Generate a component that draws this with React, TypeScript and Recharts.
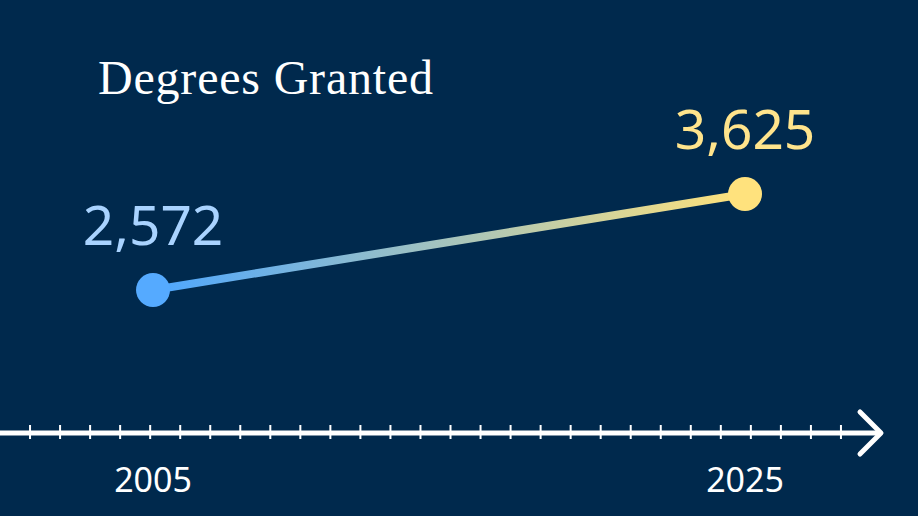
import React from 'react'
import { LineChart, Line, XAxis, YAxis } from 'recharts'

const years = [2005, 2025]
const degrees = [2572, 3625]
const pointColors = ['#55aaff', '#ffe27d']
const labelColors = ['#a9d3ff', '#ffe48c']
const yearTicks = [2005, 2025]
const minorTicks = [1, 2, 3, 4, 5, 6, 7, 8, 9, 10, 11, 12, 13, 14, 15, 16, 17, 18, 19, 20, 21, 22, 23, 24, 25, 26, 27, 28]

const data = years.map((year, i) => ({ year, value: degrees[i], idx: i }))

const BG = '#00294d'
const sans = '"Noto Sans", "Open Sans", sans-serif'

function Dot({ cx, cy, index }: any) {
  if (cx == null || cy == null) return null
  return <circle cx={cx} cy={cy} r={17} fill={pointColors[index]} />
}

function ValueLabel({ x, y, index, value }: any) {
  return (
    <text
      x={x}
      y={y - 45}
      textAnchor="middle"
      fill={labelColors[index]}
      fontFamily={sans}
      fontSize={55}
    >
      {Number(value).toLocaleString('en-US')}
    </text>
  )
}

// tick y arrives offset by tickSize + tickMargin below the axis line
function MinorTick({ x, y }: any) {
  return <line x1={x} x2={x} y1={y - 16} y2={y - 2} stroke="#ffffff" strokeWidth={2} />
}

function YearTick({ x, y, payload }: any) {
  return (
    <text x={x} y={y + 50} textAnchor="middle" fill="#ffffff" fontFamily={sans} fontSize={34}>
      {payload.value}
    </text>
  )
}

// chevron at the end of the axis line
function Arrow({ viewBox }: any) {
  if (!viewBox) return null
  const { x, y, width } = viewBox
  const tip = x + width + 1
  return (
    <polyline
      points={`${tip - 21},${y - 21} ${tip},${y} ${tip - 21},${y + 21}`}
      fill="none"
      stroke="#ffffff"
      strokeWidth={5}
      strokeLinecap="round"
      strokeLinejoin="round"
    />
  )
}

export default function App() {
  return (
    <div style={{ position: 'absolute', left: 0, top: 0, width: 918, height: 516, background: BG }}>
      <div
        style={{
          position: 'absolute', left: 98, top: 50,
          fontFamily: '"Liberation Serif", serif', fontSize: 48, letterSpacing: 0.8,
          color: '#ffffff', lineHeight: '56px', whiteSpace: 'nowrap',
        }}
      >
        Degrees Granted
      </div>
      <LineChart width={918} height={516} data={data} margin={{ top: 0, right: 38, bottom: 0, left: 0 }}>
        <defs>
          <linearGradient id="line-fill" x1="0" y1="0" x2="1" y2="0">
            <stop offset="0%" stopColor="#4da6ff" />
            <stop offset="100%" stopColor="#ffe27a" />
          </linearGradient>
        </defs>
        <XAxis
          xAxisId="minor"
          type="number"
          dataKey="idx"
          domain={[0, 29.3]}
          ticks={minorTicks}
          interval={0}
          height={1}
          tickLine={false}
          tick={<MinorTick />}
          axisLine={{ stroke: '#ffffff', strokeWidth: 5 }}
          label={<Arrow />}
          allowDataOverflow
        />
        <XAxis
          xAxisId="years"
          type="number"
          dataKey="year"
          domain={[1999.83, 2029.56]}
          ticks={yearTicks}
          interval={0}
          height={82}
          tickLine={false}
          axisLine={false}
          tick={<YearTick />}
        />
        <YAxis hide domain={[1004, 5752]} allowDataOverflow />
        <Line
          xAxisId="minor"
          dataKey="idx"
          stroke="none"
          dot={false}
          activeDot={false}
          legendType="none"
          isAnimationActive={false}
        />
        <Line
          xAxisId="years"
          dataKey="value"
          stroke="url(#line-fill)"
          strokeWidth={8}
          dot={<Dot />}
          activeDot={false}
          label={<ValueLabel />}
          isAnimationActive={false}
        />
      </LineChart>
    </div>
  )
}
